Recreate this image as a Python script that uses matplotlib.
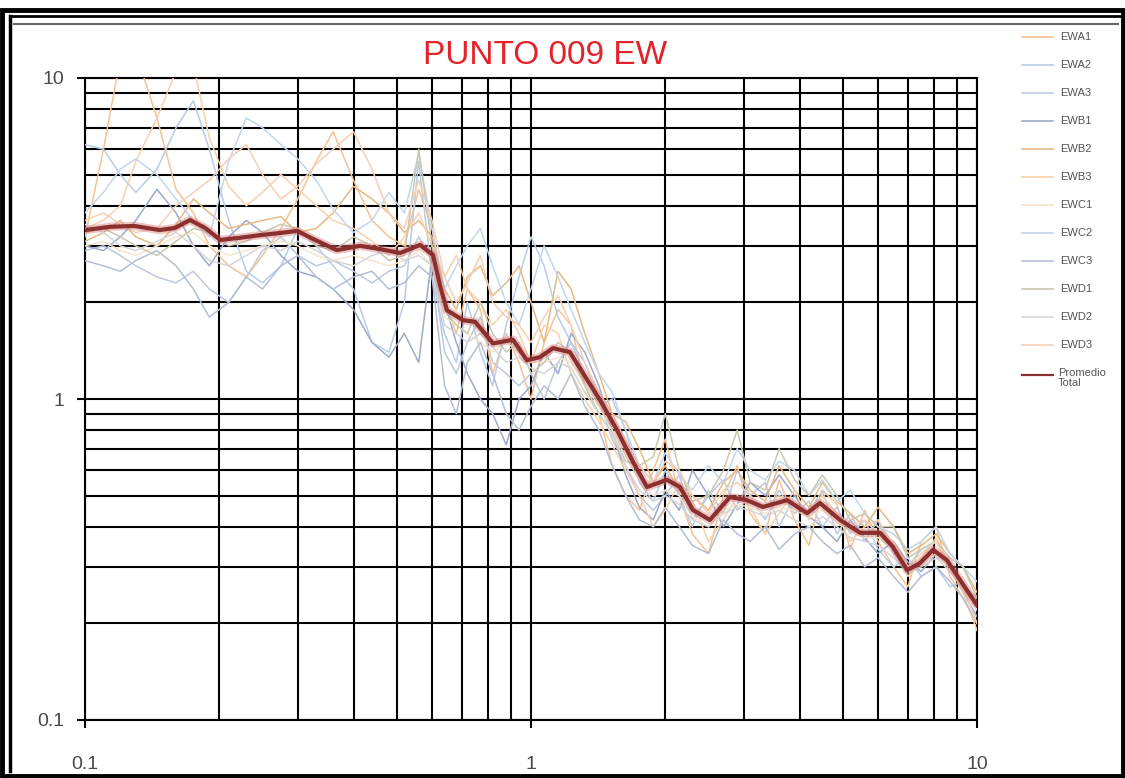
"""Spectral ratio curves, point 009, EW component"""

import matplotlib.pyplot as plt
from matplotlib.lines import Line2D
from matplotlib.patches import Rectangle
from matplotlib.ticker import FixedLocator, LogLocator, NullFormatter

plt.rcParams["font.family"] = ["Liberation Sans", "DejaVu Sans"]

# frequencies shared by the individual records
FREQ = [0.10, 0.11, 0.12, 0.13, 0.145, 0.16, 0.175, 0.19, 0.21, 0.23,
        0.25, 0.275, 0.30, 0.33, 0.36, 0.40, 0.44, 0.48, 0.52, 0.56,
        0.60, 0.64, 0.68, 0.72, 0.77, 0.82, 0.88, 0.94, 1.0, 1.07,
        1.15, 1.23, 1.32, 1.42, 1.52, 1.63, 1.75, 1.88, 2.0, 2.15,
        2.3, 2.5, 2.7, 2.9, 3.1, 3.35, 3.6, 3.9, 4.2, 4.5,
        4.85, 5.2, 5.6, 6.0, 6.5, 7.0, 7.5, 8.1, 8.7, 9.3,
        10.0]

EWA1 = [3.2, 6.0, 11.5, 12.0, 7.5, 4.5, 3.8, 3.0, 2.6, 2.4,
        2.8, 3.4, 4.2, 5.5, 6.8, 4.8, 3.6, 3.2, 3.0, 4.5,
        3.4, 2.0, 1.6, 2.2, 1.9, 1.2, 1.6, 1.3, 1.0, 1.5,
        1.9, 1.7, 1.1, 0.9, 0.62, 0.5, 0.45, 0.6, 0.75, 0.5,
        0.38, 0.33, 0.5, 0.62, 0.44, 0.38, 0.56, 0.42, 0.35, 0.52,
        0.47, 0.34, 0.45, 0.36, 0.3, 0.26, 0.36, 0.4, 0.28, 0.24,
        0.2]
EWA2 = [6.2, 6.0, 5.0, 4.4, 5.2, 7.0, 8.5, 6.0, 3.6, 2.5,
        2.3, 2.6, 3.4, 3.0, 2.6, 2.2, 1.5, 1.4, 2.0, 5.5,
        2.4, 1.6, 1.3, 2.0, 1.4, 1.1, 1.7, 2.4, 3.2, 2.6,
        1.8, 1.5, 1.2, 0.95, 1.0, 0.8, 0.55, 0.48, 0.6, 0.5,
        0.4, 0.52, 0.44, 0.6, 0.5, 0.42, 0.52, 0.44, 0.48, 0.4,
        0.46, 0.38, 0.42, 0.34, 0.3, 0.32, 0.28, 0.3, 0.26, 0.27,
        0.22]
EWA3 = [2.9, 3.0, 2.8, 2.6, 2.4, 2.3, 2.5, 2.2, 2.0, 2.4,
        2.9, 3.2, 2.8, 2.6, 2.7, 2.5, 2.3, 2.5, 2.6, 3.2,
        2.7, 1.4, 1.2, 1.5, 1.8, 1.3, 1.2, 1.1, 1.2, 1.0,
        1.3, 1.5, 1.3, 1.0, 0.75, 0.62, 0.5, 0.45, 0.5, 0.58,
        0.42, 0.5, 0.56, 0.45, 0.5, 0.55, 0.4, 0.5, 0.44, 0.52,
        0.38, 0.44, 0.36, 0.42, 0.33, 0.3, 0.34, 0.36, 0.3, 0.26,
        0.24]
EWB1 = [3.0, 2.9, 3.2, 3.6, 4.5, 3.8, 3.0, 2.6, 3.2, 3.6,
        3.3, 2.8, 2.5, 2.4, 2.2, 1.9, 1.5, 1.35, 1.6, 1.3,
        2.8, 2.0, 1.5, 1.2, 1.0, 0.9, 0.72, 1.0, 1.1, 1.4,
        1.2, 1.6, 1.4, 1.1, 0.8, 0.58, 0.46, 0.42, 0.52, 0.45,
        0.6, 0.5, 0.4, 0.47, 0.55, 0.5, 0.58, 0.5, 0.43, 0.4,
        0.36, 0.42, 0.37, 0.33, 0.36, 0.31, 0.29, 0.33, 0.3, 0.25,
        0.21]
EWB2 = [3.1, 3.3, 3.6, 3.2, 3.0, 3.5, 4.2, 3.8, 3.4, 3.5,
        3.6, 3.7, 3.3, 3.4, 3.8, 4.6, 4.2, 3.8, 3.3, 3.6,
        3.2, 2.2, 1.9, 2.4, 2.6, 2.1, 2.3, 2.6, 2.0, 1.5,
        2.5, 2.2, 1.6, 1.2, 0.9, 0.85, 0.7, 0.55, 0.62, 0.52,
        0.5, 0.45, 0.55, 0.6, 0.52, 0.48, 0.62, 0.52, 0.46, 0.55,
        0.48, 0.44, 0.4, 0.46, 0.4, 0.33, 0.35, 0.38, 0.33, 0.3,
        0.25]
EWB3 = [3.4, 3.6, 4.0, 5.5, 7.5, 10.5, 11.0, 6.5, 4.6, 4.0,
        4.4, 5.0, 4.5, 4.0, 3.6, 3.4, 3.1, 2.8, 3.2, 3.8,
        3.0, 2.4, 2.8, 2.2, 2.0, 1.7, 1.9, 1.6, 1.3, 1.7,
        1.6, 1.2, 1.0, 0.85, 0.72, 0.6, 0.5, 0.4, 0.45, 0.55,
        0.48, 0.36, 0.42, 0.5, 0.46, 0.38, 0.44, 0.52, 0.42, 0.5,
        0.44, 0.36, 0.4, 0.42, 0.35, 0.28, 0.32, 0.37, 0.3, 0.25,
        0.19]
EWC1 = [3.0, 3.1, 2.9, 2.8, 3.0, 3.2, 3.3, 3.0, 2.8, 2.9,
        3.0, 3.1, 3.0, 2.8, 2.7, 2.8, 2.7, 2.6, 2.7, 2.9,
        2.6, 1.8, 1.7, 1.6, 1.5, 1.4, 1.5, 1.4, 1.3, 1.3,
        1.35, 1.3, 1.1, 0.95, 0.8, 0.66, 0.56, 0.5, 0.52, 0.5,
        0.43, 0.4, 0.45, 0.47, 0.46, 0.44, 0.46, 0.45, 0.43, 0.45,
        0.41, 0.39, 0.37, 0.37, 0.34, 0.3, 0.31, 0.33, 0.3, 0.27,
        0.23]
EWC2 = [3.8, 4.4, 5.2, 5.6, 5.0, 4.2, 3.6, 3.2, 5.5, 7.5,
        7.0, 6.2, 5.6, 4.8, 3.9, 3.3, 3.6, 4.4, 3.8, 5.8,
        3.4, 2.2, 2.6, 3.0, 3.4, 2.6, 2.0, 1.7, 2.2, 3.0,
        2.4, 1.9, 1.5, 1.2, 1.05, 0.8, 0.62, 0.55, 0.68, 0.58,
        0.52, 0.62, 0.55, 0.7, 0.6, 0.56, 0.64, 0.6, 0.5, 0.56,
        0.48, 0.52, 0.44, 0.4, 0.38, 0.34, 0.36, 0.4, 0.33, 0.3,
        0.27]
EWC3 = [2.7, 2.6, 2.5, 2.7, 2.9, 2.6, 2.2, 1.8, 2.0, 2.4,
        2.2, 2.6, 2.8, 2.4, 2.2, 2.4, 2.5, 2.2, 2.3, 2.6,
        2.4, 1.1, 0.9, 1.3, 1.5, 1.2, 0.9, 0.8, 0.95, 1.1,
        1.0, 1.2, 0.95, 0.8, 0.62, 0.5, 0.42, 0.4, 0.46, 0.4,
        0.35, 0.33, 0.42, 0.38, 0.36, 0.4, 0.34, 0.38, 0.4, 0.36,
        0.33, 0.35, 0.3, 0.32, 0.28, 0.25, 0.28, 0.3, 0.27, 0.24,
        0.2]
EWD1 = [3.3, 3.4, 3.2, 3.0, 2.8, 3.1, 3.4, 3.3, 3.0, 3.1,
        3.3, 3.5, 3.4, 3.0, 2.9, 3.2, 3.0, 2.7, 2.8, 6.0,
        3.0, 1.9, 1.7, 1.6, 2.0, 1.6, 1.4, 1.5, 1.2, 1.3,
        1.5, 1.4, 1.1, 0.9, 0.78, 0.64, 0.62, 0.66, 0.9, 0.6,
        0.48, 0.5, 0.6, 0.8, 0.55, 0.52, 0.7, 0.56, 0.5, 0.58,
        0.5, 0.42, 0.44, 0.4, 0.4, 0.32, 0.34, 0.36, 0.32, 0.3,
        0.24]
EWD2 = [3.5, 3.3, 3.0, 2.9, 3.1, 3.3, 3.0, 2.7, 2.6, 2.8,
        3.0, 2.9, 3.1, 2.9, 2.7, 2.6, 2.8, 2.9, 2.7, 2.8,
        2.6, 1.7, 1.6, 1.5, 1.6, 1.45, 1.3, 1.35, 1.25, 1.2,
        1.3, 1.25, 1.05, 0.9, 0.78, 0.62, 0.52, 0.48, 0.5, 0.47,
        0.42, 0.4, 0.44, 0.46, 0.45, 0.43, 0.45, 0.42, 0.4, 0.43,
        0.4, 0.37, 0.36, 0.35, 0.32, 0.29, 0.3, 0.32, 0.29, 0.26,
        0.22]
EWD3 = [3.6, 3.8, 3.5, 3.3, 3.4, 4.0, 4.4, 4.8, 5.6, 6.2,
        5.0, 4.2, 4.6, 5.4, 6.0, 6.8, 5.2, 3.8, 3.4, 4.8,
        3.6, 2.4, 2.0, 2.3, 2.8, 2.0, 1.8, 1.7, 1.5, 1.8,
        2.1, 1.7, 1.3, 1.05, 0.9, 0.74, 0.62, 0.55, 0.64, 0.6,
        0.5, 0.44, 0.52, 0.55, 0.5, 0.46, 0.5, 0.48, 0.44, 0.5,
        0.44, 0.4, 0.42, 0.38, 0.36, 0.3, 0.33, 0.36, 0.3, 0.26,
        0.2]

# overall mean of the twelve records
AVG_FREQ = [0.100, 0.114, 0.129, 0.147, 0.159, 0.172, 0.186, 0.201, 0.223, 0.247,
            0.274, 0.299, 0.328, 0.367, 0.414, 0.459, 0.509, 0.564, 0.603, 0.625,
            0.648, 0.704, 0.749, 0.822, 0.911, 0.979, 1.047, 1.12, 1.222, 1.335,
            1.428, 1.559, 1.693, 1.82, 2.018, 2.158, 2.307, 2.518, 2.793, 3.048,
            3.311, 3.75, 4.159, 4.446, 4.93, 5.47, 6.06, 6.48, 6.97, 7.45,
            7.97, 8.56, 9.16, 10.0]
AVG_VALUES = [3.36, 3.44, 3.46, 3.36, 3.41, 3.61, 3.41, 3.13, 3.18, 3.24,
              3.29, 3.34, 3.13, 2.91, 3.00, 2.93, 2.85, 3.02, 2.81, 2.26,
              1.89, 1.76, 1.74, 1.49, 1.53, 1.32, 1.35, 1.44, 1.40, 1.15,
              0.993, 0.80, 0.637, 0.532, 0.56, 0.532, 0.451, 0.42, 0.495, 0.484,
              0.461, 0.484, 0.441, 0.474, 0.42, 0.383, 0.383, 0.346, 0.293, 0.308,
              0.339, 0.315, 0.273, 0.228]

RECORD_NAMES = ["EWA1", "EWA2", "EWA3", "EWB1", "EWB2", "EWB3",
                "EWC1", "EWC2", "EWC3", "EWD1", "EWD2", "EWD3"]
RECORDS = [EWA1, EWA2, EWA3, EWB1, EWB2, EWB3,
           EWC1, EWC2, EWC3, EWD1, EWD2, EWD3]
RECORD_COLORS = ["#f7c292", "#b6cde9", "#bfc9de", "#9eaaca", "#e6b985", "#f8d1aa",
                 "#f2e6cc", "#c2d6ee", "#b4bfd3", "#cbc8ad", "#d6d6d6", "#f5d0b4"]
AVG_COLOR = "#8b2f2f"

W, H = 1125, 778


def fx(x):
    """pixel column -> figure fraction"""
    return x / W


def fy(y):
    """pixel row (from top) -> figure fraction"""
    return 1 - y / H


fig = plt.figure(figsize=(W / 100, H / 100), dpi=100)
fig.patch.set_facecolor("white")

ax = fig.add_axes([fx(85), fy(720), fx(977) - fx(85), fy(78) - fy(720)])

for values, color in zip(RECORDS, RECORD_COLORS):
    ax.plot(FREQ, values, color=color, lw=1.1, zorder=3)

ax.plot(AVG_FREQ, AVG_VALUES, color="#d98080", lw=6, alpha=0.45, zorder=4,
        solid_capstyle="butt")
ax.plot(AVG_FREQ, AVG_VALUES, color=AVG_COLOR, lw=3.0, zorder=5)

ax.set_xscale("log")
ax.set_yscale("log")
ax.set_xlim(0.1, 10)
ax.set_ylim(0.1, 10)

for axis in (ax.xaxis, ax.yaxis):
    axis.set_major_locator(FixedLocator([0.1, 1, 10]))
    axis.set_minor_locator(LogLocator(base=10, subs=range(2, 10)))
    axis.set_minor_formatter(NullFormatter())
ax.set_xticklabels(["0.1", "1", "10"])
ax.set_yticklabels(["0.1", "1", "10"])

ax.set_axisbelow(True)
ax.grid(which="both", color="black", lw=1.5)
ax.tick_params(which="major", length=6, width=1.5, direction="out",
               labelsize=14, labelcolor="#4a4a4a")
ax.tick_params(which="minor", length=0)
ax.tick_params(axis="x", pad=20)
ax.tick_params(axis="y", pad=9)
for side in ax.spines.values():
    side.set_color("black")
    side.set_linewidth(1.5)

fig.text(fx(545), fy(55), "PUNTO 009 EW", color="#e3222b", fontsize=24,
         ha="center", va="center")

# legend column on the right
for i, (name, color) in enumerate(zip(RECORD_NAMES, RECORD_COLORS)):
    y = 37 + 28 * i
    fig.add_artist(Line2D([fx(1022), fx(1053)], [fy(y), fy(y)], color=color, lw=1.2))
    fig.text(fx(1060), fy(y), name, fontsize=8, color="#555555", va="center")
y = 375
fig.add_artist(Line2D([fx(1022), fx(1053)], [fy(y), fy(y)], color=AVG_COLOR, lw=1.6))
fig.text(fx(1058), fy(y - 7), "Promedio\nTotal", fontsize=8, color="#555555",
         va="top", linespacing=1.0)

# double frame and chart area edge
fig.add_artist(Rectangle((fx(2), fy(776)), fx(1121), fy(10) - fy(776), fill=False,
                         ec="black", lw=3.5, transform=fig.transFigure))
fig.add_artist(Line2D([fx(10), fx(10)], [fy(16), fy(771)], color="black", lw=2.5))
fig.add_artist(Line2D([fx(10), fx(1122)], [fy(16), fy(16)], color="black", lw=2))
fig.add_artist(Line2D([fx(14), fx(1118)], [fy(24), fy(24)], color="#666666", lw=1.5))

fig.savefig("out.png", dpi=100)
